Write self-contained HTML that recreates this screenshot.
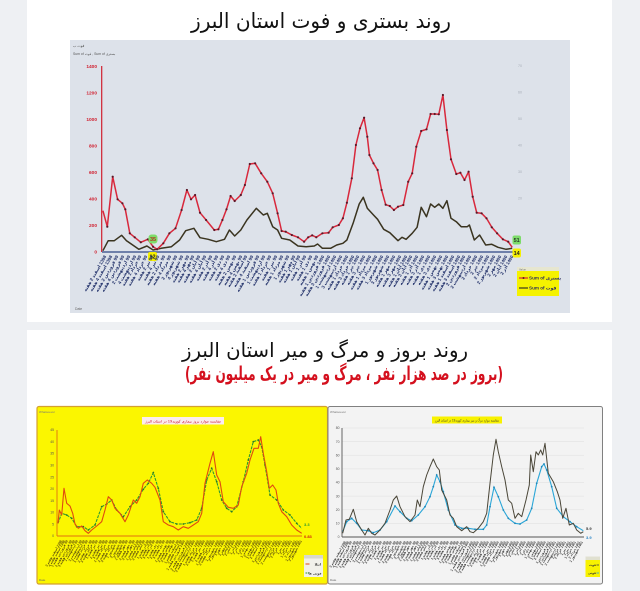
<!DOCTYPE html>
<html><head><meta charset="utf-8">
<style>
html,body{margin:0;padding:0}
body{width:640px;height:591px;position:relative;overflow:hidden;background:#eef0f3;font-family:"Liberation Sans","DejaVu Sans",sans-serif}
svg{position:absolute;left:0;top:0}
.xl{position:absolute;display:flex;direction:ltr}
.xl b{flex:none;direction:rtl;white-space:nowrap;transform-origin:100% 0;transform:rotate(-60deg);line-height:1;font-family:"Liberation Sans","DejaVu Sans",sans-serif;font-weight:bold}
.t{left:98.1px;top:255px}
.t b{width:5.9px;font-size:4.5px;color:#22316a}
.y{left:56.6px;top:540px}
.y b{width:3.35px;font-size:3.3px;color:#5e500e}
.g{left:340.6px;top:541px}
.g b{width:3.35px;font-size:3.3px;color:#444}
</style></head><body>
<svg width="640" height="591" viewBox="0 0 640 591">
<defs>
<marker id="mr" markerWidth="3" markerHeight="3" refX="1.5" refY="1.5" markerUnits="userSpaceOnUse"><circle cx="1.5" cy="1.5" r="1.1" fill="#5a1828"/></marker>
<marker id="mg" markerWidth="3" markerHeight="3" refX="1.5" refY="1.5" markerUnits="userSpaceOnUse"><circle cx="1.5" cy="1.5" r="0.9" fill="#2a7a2a"/></marker>
<marker id="mb" markerWidth="3" markerHeight="3" refX="1.5" refY="1.5" markerUnits="userSpaceOnUse"><circle cx="1.5" cy="1.5" r="0.9" fill="#1f86b8"/></marker>
</defs>
<rect x="0" y="0" width="640" height="591" fill="#eef0f3"/>
<rect x="27" y="0" width="585" height="322" fill="#ffffff"/>
<rect x="27" y="330" width="585" height="261" fill="#ffffff"/>

<text x="321" y="28" text-anchor="middle" font-family="DejaVu Sans, sans-serif" font-size="21" fill="#111" textLength="260" lengthAdjust="spacingAndGlyphs">روند بستری و فوت استان البرز</text>

<rect x="70" y="40" width="500" height="273" fill="#dde2ea"/>
<text x="73" y="47" font-size="3.6" fill="#555" font-family="Liberation Sans, DejaVu Sans, sans-serif">فوت ب</text>
<text x="73" y="55" font-size="3.4" fill="#555" font-family="Liberation Sans, DejaVu Sans, sans-serif">Sum of فوت , Sum of بستری</text>
<text x="75" y="310" font-size="3.4" fill="#666" font-family="Liberation Sans, sans-serif">Date</text>

<g font-family="Liberation Sans, sans-serif" font-size="4.8" font-weight="bold" fill="#d02030" text-anchor="end">
<text x="97" y="68">1400</text>
<text x="97" y="94.5">1200</text>
<text x="97" y="121">1000</text>
<text x="97" y="147.5">800</text>
<text x="97" y="174">600</text>
<text x="97" y="200.5">400</text>
<text x="97" y="227">200</text>
<text x="97" y="253.5">0</text>
</g>
<g font-family="Liberation Sans, sans-serif" font-size="3.6" fill="#a8aeb8" text-anchor="middle">
<text x="520" y="67">70</text>
<text x="520" y="93.5">60</text>
<text x="520" y="120">50</text>
<text x="520" y="146.5">40</text>
<text x="520" y="173">30</text>
<text x="520" y="199.5">20</text>
</g>
<line x1="101.7" y1="66" x2="101.7" y2="252" stroke="#d02030" stroke-width="1.2"/>
<line x1="102" y1="252" x2="514" y2="252" stroke="#4b5f95" stroke-width="1.6"/>

<polyline fill="none" stroke="#3a3420" stroke-width="1.5" stroke-linejoin="round" points="102.9,250.7 108.2,240.7 114.3,240.7 121.6,235.3 126.5,240.7 132.7,245 138.8,249.3 146.9,246 153.1,250 161.2,248.3 171.4,246.7 179.6,240 185.7,230.7 193.9,228.3 200,237.7 208.2,239.3 216.3,241.7 224.5,239.3 229.4,230 234.7,236 240.8,230 246.9,220 256.3,208.3 263.3,215 267.3,213.3 272.7,226.7 277.6,230 281.6,238.3 289.8,240 298,246 306.1,246.7 314.3,246 317.6,244 322.4,248.3 330.6,248.3 336.7,245 342.9,243.3 346.9,240 353.1,223.3 359.2,204 363.3,197.3 367.3,208.3 373.5,215 377.6,219.3 383.7,229.3 389.8,232.7 398,240.7 402,237.3 406.1,239.3 412.2,233.3 417.1,227.3 421.2,207.3 426.5,216.7 430.6,204 434.7,207.3 438.8,204 442.9,208.3 446.9,200.7 451,218.3 456.3,221.7 461.2,226.7 467.3,226.7 469.4,225 474.3,240 479.6,235 485.7,245 491.8,244.3 498,247.3 506.1,249.3 512.2,248.3"/>
<polyline fill="none" stroke="#d8283c" stroke-width="1.5" stroke-linejoin="round" marker-mid="url(#mr)" points="102.9,210.7 107.3,226.7 112.7,176.7 117.6,199.3 122.4,203.3 125.3,209.3 129.8,233.3 134.7,237.3 140.8,242.3 147.8,239.3 153.1,246.7 157.1,249.3 163.3,243.3 169.4,233.3 175.5,228.3 181.6,210 186.9,190 191,199.3 195.1,195 200,212.7 206.1,220 214.3,230 218.4,229.3 222.4,220 226.5,209.3 230.6,196 234.7,201 240.8,195 244.9,185 249.8,164 255.1,163.3 261.2,173.3 267.3,181.7 272.7,193.3 277.6,213.3 281.6,231 285.7,231.7 291.8,235 298,237.3 304.1,241.7 308.2,237.3 312.2,235.3 316.3,237.3 322.4,233.3 328.6,232.7 332.7,227.3 338.8,225 342.9,218.3 346.9,202.7 351.8,178.3 355.9,145 360,128.3 364.1,117.7 367.3,136.7 369.4,155 373.5,163.3 377.6,170 381.6,190 385.7,204.7 389.8,206 393.9,210 398,206.7 403.3,205 408.2,181.7 412.2,173.3 416.3,146.7 421.2,131 426.5,129.3 430.6,114 434.7,114 438.8,114.3 442.9,95 446.9,130 451,159.3 456.3,174 460.4,172.7 464.5,180 468.6,171.7 472.7,196.7 476.7,212.7 481.6,213.3 486.5,218.3 491.8,227.3 497.1,233.3 502.9,239.3 508.2,241.7 512.2,247.3"/>

<g font-family="Liberation Sans, sans-serif" font-size="5.5" font-weight="bold" text-anchor="middle">
<rect x="148.5" y="234.5" width="9" height="9" rx="3" fill="#7ddc6a"/>
<text x="153" y="241" fill="#b0301c">35</text>
<rect x="148" y="252" width="9" height="9" rx="2" fill="#f5f000"/>
<text x="152.5" y="258.5" fill="#222">12</text>
<rect x="512.5" y="235.5" width="8.5" height="9" rx="2" fill="#7ddc6a"/>
<text x="516.7" y="242" fill="#2a3a2a">51</text>
<rect x="512.5" y="248.5" width="8.5" height="9" rx="2" fill="#f5f000"/>
<text x="516.7" y="255" fill="#222">14</text>
</g>

<rect x="517" y="267" width="42" height="29" fill="#f5f200"/>
<rect x="517" y="267" width="42" height="4" fill="#e6e6d0"/>
<text x="519" y="270.3" font-size="2.8" fill="#777" font-family="Liberation Sans, sans-serif">Value</text>
<line x1="519" y1="278" x2="528" y2="278" stroke="#d8283c" stroke-width="1.2"/>
<circle cx="523.5" cy="278" r="1" fill="#5a1828"/>
<text x="529" y="279.6" font-size="4.6" font-weight="bold" fill="#2d3060" font-family="Liberation Sans, DejaVu Sans, sans-serif">Sum of بستری</text>
<line x1="519" y1="288" x2="528" y2="288" stroke="#3a3420" stroke-width="1.2"/>
<text x="529" y="289.6" font-size="4.6" font-weight="bold" fill="#2d3060" font-family="Liberation Sans, DejaVu Sans, sans-serif">Sum of فوت</text>

<text x="325" y="357" text-anchor="middle" font-family="DejaVu Sans, sans-serif" font-size="20" fill="#111" textLength="286" lengthAdjust="spacingAndGlyphs">روند بروز و مرگ و میر استان البرز</text>
<text x="344" y="380" text-anchor="middle" font-family="DejaVu Sans, sans-serif" font-size="19" font-weight="bold" fill="#d4101e" textLength="318" lengthAdjust="spacingAndGlyphs">(بروز در صد هزار نفر ، مرگ و میر در یک میلیون نفر)</text>

<rect x="37" y="406.5" width="290.5" height="177.5" rx="2" fill="#fbf600" stroke="#d4a030" stroke-width="1.2"/>
<text x="39" y="413" font-size="3" fill="#777" font-family="Liberation Sans, sans-serif">Whatsoever</text>
<rect x="142" y="417" width="82" height="7.5" fill="#fbecef"/>
<text x="183" y="422.3" text-anchor="middle" font-size="3.6" fill="#c8102e" font-family="DejaVu Sans, sans-serif" textLength="76" lengthAdjust="spacingAndGlyphs">مقایسه موارد بروز بیماری کووید19 در استان البرز</text>
<g font-family="Liberation Sans, sans-serif" font-size="3.4" fill="#555" text-anchor="end">
<text x="54" y="431">45</text><text x="54" y="443">40</text><text x="54" y="454.7">35</text><text x="54" y="466.5">30</text><text x="54" y="478.3">25</text><text x="54" y="490">20</text><text x="54" y="501.8">15</text><text x="54" y="513.6">10</text><text x="54" y="525.4">5</text><text x="54" y="537.2">0</text>
</g>
<line x1="57" y1="430" x2="57" y2="536" stroke="#e07010" stroke-width="0.9"/>
<line x1="57" y1="536" x2="302" y2="536" stroke="#e07010" stroke-width="0.9"/>
<polyline fill="none" stroke="#2f9a30" stroke-width="1.1" stroke-dasharray="3,1" marker-mid="url(#mg)" points="58,523.3 61.7,513.3 66.7,515 71.7,518.3 76.7,526.7 83.3,526.7 88.3,530 95,525 101.7,506.7 106.7,504 111.7,500 116.7,510 123.3,516.7 130,506.7 136.7,500 143.3,489.3 148.3,483.3 153.3,472.7 158.3,488.3 163.3,511.7 170,521.7 176.7,524 183.3,524 190,522.7 196.7,520 201.7,508.3 206.7,480 211.7,468.3 216.7,481.7 221.7,500 226.7,508.3 231.7,511.7 236.7,506.7 243.3,481.7 248.3,460 253.3,441.7 258.3,440 261.7,446.7 265,465 270,495 276.7,500 283.3,510 290,515 296.7,523.3 301.7,528.3"/>
<polyline fill="none" stroke="#e04a10" stroke-width="1.1" stroke-linejoin="round" points="58,523.3 59.3,510 61.7,515 64,488.3 66.7,503.3 70,506 72.7,513.3 75,524 78.3,528.3 81.7,526 85,530.7 88.3,533.3 91.7,530 96.7,526 101.7,521.7 105,510 108.3,496.7 111.7,500 115,508.3 120,513.3 125,521.7 128.3,515 133.3,500 136.7,503.3 140,496.7 143.3,483.3 147.3,480 151.7,483.3 155,487.3 160,500 163.3,521.7 168.3,525 173.3,526.7 178.3,530 183.3,526.7 188.3,528.3 193.3,525 198.3,521.7 201.7,513.3 205,483.3 210,463.3 213.3,451.7 216.7,475 220,481.7 223.3,501.7 228.3,507.3 233.3,508.3 238.3,505 241.7,486.7 246.7,473.3 250,460 254,448.3 258.3,448.3 260.7,436.7 263.3,453.3 266.7,471.7 269.3,488.3 272.7,485 276,490 278.3,503.3 281.7,511.7 286.7,516.7 291.7,525 296.7,530 301.7,533.3"/>
<text x="304" y="526" font-size="4" font-weight="bold" fill="#2f9a30" font-family="Liberation Sans, sans-serif">3.3</text>
<text x="304" y="538" font-size="4" font-weight="bold" fill="#d02010" font-family="Liberation Sans, sans-serif">0.83</text>
<rect x="304" y="555" width="19" height="22" fill="#f1f1ea"/>
<rect x="304" y="555" width="19" height="3.5" fill="#d8d8cc"/>
<line x1="305.5" y1="564" x2="309.5" y2="564" stroke="#e04a10" stroke-width="1"/>
<text x="321" y="565.3" text-anchor="end" font-size="3.4" font-weight="bold" fill="#333" font-family="DejaVu Sans, sans-serif">ابتلا</text>
<line x1="305.5" y1="573" x2="309.5" y2="573" stroke="#2f9a30" stroke-width="1" stroke-dasharray="1.5,0.7"/>
<text x="321.5" y="574.3" text-anchor="end" font-size="3.2" font-weight="bold" fill="#333" font-family="DejaVu Sans, sans-serif">فوتی ها</text>
<text x="39" y="581" font-size="3" fill="#666" font-family="Liberation Sans, sans-serif">Date</text>

<rect x="328" y="406.5" width="274.5" height="177.5" rx="2" fill="#f3f3f3" stroke="#808080" stroke-width="1"/>
<text x="330" y="413" font-size="3" fill="#777" font-family="Liberation Sans, sans-serif">Whatsoever</text>
<rect x="432" y="416.5" width="70" height="7" fill="#f8f200"/>
<text x="467" y="421.5" text-anchor="middle" font-size="3.4" fill="#333" font-family="DejaVu Sans, sans-serif" textLength="64" lengthAdjust="spacingAndGlyphs">مقایسه موارد مرگ و میر بیماری کووید19 در استان البرز</text>
<g stroke="#dedede" stroke-width="0.5">
<line x1="342" y1="428" x2="584" y2="428"/><line x1="342" y1="441.6" x2="584" y2="441.6"/><line x1="342" y1="455.2" x2="584" y2="455.2"/><line x1="342" y1="468.9" x2="584" y2="468.9"/><line x1="342" y1="482.5" x2="584" y2="482.5"/><line x1="342" y1="496.1" x2="584" y2="496.1"/><line x1="342" y1="509.8" x2="584" y2="509.8"/><line x1="342" y1="523.4" x2="584" y2="523.4"/>
</g>
<g font-family="Liberation Sans, sans-serif" font-size="3.4" fill="#555" text-anchor="end">
<text x="339.5" y="429.2">80</text><text x="339.5" y="442.8">70</text><text x="339.5" y="456.4">60</text><text x="339.5" y="470">50</text><text x="339.5" y="483.7">40</text><text x="339.5" y="497.3">30</text><text x="339.5" y="511">20</text><text x="339.5" y="524.6">10</text><text x="339.5" y="538.2">0</text>
</g>
<line x1="342" y1="428" x2="342" y2="537" stroke="#555" stroke-width="0.9"/>
<line x1="342" y1="537" x2="584" y2="537" stroke="#555" stroke-width="0.9"/>
<polyline fill="none" stroke="#2aa6d8" stroke-width="1.1" marker-mid="url(#mb)" points="342.7,531.7 346.7,521.7 351.7,518.3 356.7,523.3 361.7,530 368.3,530.7 373.3,532.7 380,530 386.7,521.7 395,506 400,511.7 406.7,518.3 411.7,520.7 418.3,515 425,506.7 430,496.7 433.3,486.7 436.7,475 440,481.7 443.3,491.7 448.3,510 455,525 461.7,528.3 468.3,528.3 475,529.3 483.3,529.3 486.7,525 490,506.7 494,487.3 498.3,496.7 503.3,510 508.3,518.3 515,523.3 520,524 526.7,520 531.7,508.3 536.7,483.3 541.7,466.7 544,464 546.7,470 551.7,486.7 556.7,508.3 563.3,516.7 570,521.7 576.7,526.7 583.3,530.7"/>
<polyline fill="none" stroke="#4a4638" stroke-width="1" stroke-linejoin="round" points="342.7,533.3 346,520 349.3,519.3 353.3,509.3 356.7,521.7 361.7,530 365,535 368.3,528.3 371.7,533.3 375,535 380,530 385,523.3 390,510 393.3,500 396.7,496 400,506.7 405,516.7 410,521.7 415,515 417.3,500 420,506.7 423.3,486.7 426.7,475 430,466.7 433.3,459 436.7,466.7 439.3,470 441.7,490 446.7,500 450,515 453.3,518.3 456.7,526.7 461.7,530.7 466.7,526.7 470,531.7 473.3,532.7 478.3,528.3 483.3,521.7 486.7,513.3 490,483.3 493.3,455 496,439.3 498.3,451.7 501.7,466.7 505,480 508.3,500 511.7,503.3 515,518.3 518.3,513.3 521.7,516.7 526,500 529.3,485 530.7,455 533.3,471.7 536,451.7 538.3,455 540.7,450 542.7,455 545,443.3 548.3,473.3 553.3,481.7 557.3,491.7 560,500 562.7,518.3 566,508.3 569.3,525 573.3,523.3 576.7,530 580.7,533.3 583.3,531.7"/>
<text x="586" y="530" font-size="4" font-weight="bold" fill="#333" font-family="Liberation Sans, sans-serif">5.9</text>
<text x="586" y="539" font-size="4" font-weight="bold" fill="#2a86c8" font-family="Liberation Sans, sans-serif">3.9</text>
<rect x="585.5" y="556.5" width="14.5" height="20.5" fill="#f8f200"/>
<rect x="585.5" y="556.5" width="14.5" height="3.5" fill="#e0e0d0"/>
<text x="596" y="566" text-anchor="end" font-size="3" font-weight="bold" fill="#333" font-family="DejaVu Sans, sans-serif">فوت</text>
<line x1="596.5" y1="565" x2="599" y2="565" stroke="#4a4638" stroke-width="0.8"/>
<text x="596" y="574" text-anchor="end" font-size="3" font-weight="bold" fill="#333" font-family="DejaVu Sans, sans-serif">فوتی</text>
<line x1="596.5" y1="573" x2="599" y2="573" stroke="#2aa6d8" stroke-width="0.8"/>
<text x="330" y="581" font-size="3" fill="#666" font-family="Liberation Sans, sans-serif">Date</text>
</svg>

<div class="xl t"><b>1398 اسفند 2 هفته</b><b>1398 اسفند 4 هفته</b><b>99 فروردین 2 هفته</b><b>99 فروردین 4 هفته</b><b>99 اردیبهشت 2</b><b>99 اردیبهشت 4</b><b>99 خرداد 2 هفته</b><b>99 خرداد 4 هفته</b><b>99 تیر 2 هفته</b><b>99 تیر 4 هفته</b><b>99 مرداد 2 هفته</b><b>99 مرداد 4 هفته</b><b>99 شهریور 2</b><b>99 شهریور 4</b><b>99 مهر 2 هفته</b><b>99 مهر 4 هفته</b><b>99 آبان 2 هفته</b><b>99 آبان 4 هفته</b><b>99 آذر 2 هفته</b><b>99 آذر 4 هفته</b><b>99 دی 2 هفته</b><b>99 دی 4 هفته</b><b>99 بهمن 2 هفته</b><b>99 بهمن 4 هفته</b><b>99 اسفند 2 هفته</b><b>99 اسفند 4 هفته</b><b>99 فروردین 1 هفته</b><b>99 اردیبهشت 1</b><b>99 خرداد 1 هفته</b><b>99 تیر 1 هفته</b><b>99 مرداد 1 هفته</b><b>99 شهریور 1</b><b>99 مهر 1 هفته</b><b>99 آبان 1 هفته</b><b>99 آذر 1 هفته</b><b>99 دی 1 هفته</b><b>99 بهمن 1 هفته</b><b>1400 فروردین 1 هفته</b><b>1400 فروردین 3 هفته</b><b>1400 اردیبهشت 1</b><b>1400 اردیبهشت 3</b><b>1400 خرداد 1 هفته</b><b>1400 خرداد 3 هفته</b><b>1400 تیر 1 هفته</b><b>1400 تیر 3 هفته</b><b>1400 مرداد 1 هفته</b><b>1400 مرداد 3 هفته</b><b>1400 شهریور 1</b><b>1400 شهریور 3</b><b>1400 مهر 1 هفته</b><b>1400 مهر 3 هفته</b><b>1400 آبان 1 هفته</b><b>1400 آبان 3 هفته</b><b>1400 آذر 1 هفته</b><b>1400 آذر 3 هفته</b><b>1400 دی 1 هفته</b><b>1400 دی 3 هفته</b><b>1400 بهمن 1 هفته</b><b>1400 بهمن 3 هفته</b><b>1400 اسفند 1 هفته</b><b>1400 اسفند 3 هفته</b><b>1400 فروردین 2</b><b>1400 اردیبهشت 2</b><b>1400 خرداد 2</b><b>1400 تیر 2</b><b>1400 مرداد 2</b><b>1400 شهریور 2</b><b>1400 مهر 2</b><b>1400 آبان 2</b><b>1400 آذر 2</b></div>

<div class="xl y"><b>1398 اسفند هفته 3</b><b>1398 اسفند هفته 4</b><b>99 فروردین هفته 1</b><b>99 فروردین هفته 2</b><b>99 فروردین هفته 3</b><b>99 اردیبهشت 1</b><b>99 اردیبهشت 2</b><b>99 اردیبهشت 3</b><b>99 خرداد هفته 1</b><b>99 خرداد هفته 2</b><b>99 خرداد هفته 3</b><b>99 تیر هفته 1</b><b>99 تیر هفته 2</b><b>99 تیر هفته 3</b><b>99 مرداد هفته 1</b><b>99 مرداد هفته 2</b><b>99 مرداد هفته 3</b><b>99 شهریور 1</b><b>99 شهریور 2</b><b>99 شهریور 3</b><b>99 مهر هفته 1</b><b>99 مهر هفته 2</b><b>99 مهر هفته 3</b><b>99 آبان هفته 1</b><b>99 آبان هفته 2</b><b>99 آبان هفته 3</b><b>99 آذر هفته 1</b><b>99 آذر هفته 2</b><b>99 آذر هفته 3</b><b>99 دی هفته 1</b><b>99 دی هفته 2</b><b>99 دی هفته 3</b><b>99 بهمن هفته 1</b><b>99 بهمن هفته 2</b><b>99 بهمن هفته 3</b><b>99 اسفند هفته 1</b><b>99 اسفند هفته 2</b><b>1400 فروردین هفته 1</b><b>1400 فروردین هفته 2</b><b>1400 اردیبهشت هفته 1</b><b>1400 اردیبهشت هفته 2</b><b>1400 خرداد هفته 1</b><b>1400 خرداد هفته 2</b><b>1400 تیر هفته 1</b><b>1400 تیر هفته 2</b><b>1400 مرداد هفته 1</b><b>1400 مرداد هفته 2</b><b>1400 شهریور 1</b><b>1400 شهریور 2</b><b>1400 مهر 1</b><b>1400 مهر 2</b><b>1400 آبان 1</b><b>1400 آبان 2</b><b>1400 آذر 1</b><b>1400 آذر 2</b><b>1400 دی 1</b><b>1400 دی 2</b><b>1400 بهمن 1</b><b>1400 بهمن 2</b><b>1400 اسفند 1</b><b>1400 اسفند 2</b><b>1401 فروردین 1</b><b>1401 فروردین 2</b><b>1401 اردیبهشت 1</b><b>1401 اردیبهشت 2</b><b>1401 خرداد 1</b><b>1401 خرداد 2</b><b>1401 تیر 1</b><b>1401 تیر 2</b><b>1401 مرداد 1</b><b>1401 مرداد 2</b><b>1401 شهریور 1</b><b>1401 شهریور 2</b></div>

<div class="xl g"><b>1398 اسفند هفته 3</b><b>1398 اسفند هفته 4</b><b>99 فروردین هفته 1</b><b>99 فروردین هفته 2</b><b>99 فروردین هفته 3</b><b>99 اردیبهشت 1</b><b>99 اردیبهشت 2</b><b>99 اردیبهشت 3</b><b>99 خرداد هفته 1</b><b>99 خرداد هفته 2</b><b>99 خرداد هفته 3</b><b>99 تیر هفته 1</b><b>99 تیر هفته 2</b><b>99 تیر هفته 3</b><b>99 مرداد هفته 1</b><b>99 مرداد هفته 2</b><b>99 مرداد هفته 3</b><b>99 شهریور 1</b><b>99 شهریور 2</b><b>99 شهریور 3</b><b>99 مهر هفته 1</b><b>99 مهر هفته 2</b><b>99 مهر هفته 3</b><b>99 آبان هفته 1</b><b>99 آبان هفته 2</b><b>99 آبان هفته 3</b><b>99 آذر هفته 1</b><b>99 آذر هفته 2</b><b>99 آذر هفته 3</b><b>99 دی هفته 1</b><b>99 دی هفته 2</b><b>99 دی هفته 3</b><b>99 بهمن هفته 1</b><b>99 بهمن هفته 2</b><b>99 بهمن هفته 3</b><b>99 اسفند هفته 1</b><b>99 اسفند هفته 2</b><b>1400 فروردین هفته 1</b><b>1400 فروردین هفته 2</b><b>1400 اردیبهشت هفته 1</b><b>1400 اردیبهشت هفته 2</b><b>1400 خرداد هفته 1</b><b>1400 خرداد هفته 2</b><b>1400 تیر هفته 1</b><b>1400 تیر هفته 2</b><b>1400 مرداد هفته 1</b><b>1400 مرداد هفته 2</b><b>1400 شهریور 1</b><b>1400 شهریور 2</b><b>1400 مهر 1</b><b>1400 مهر 2</b><b>1400 آبان 1</b><b>1400 آبان 2</b><b>1400 آذر 1</b><b>1400 آذر 2</b><b>1400 دی 1</b><b>1400 دی 2</b><b>1400 بهمن 1</b><b>1400 بهمن 2</b><b>1400 اسفند 1</b><b>1400 اسفند 2</b><b>1401 فروردین 1</b><b>1401 فروردین 2</b><b>1401 اردیبهشت 1</b><b>1401 اردیبهشت 2</b><b>1401 خرداد 1</b><b>1401 خرداد 2</b><b>1401 تیر 1</b><b>1401 تیر 2</b><b>1401 مرداد 1</b><b>1401 مرداد 2</b><b>1401 شهریور 1</b></div>
</body></html>
